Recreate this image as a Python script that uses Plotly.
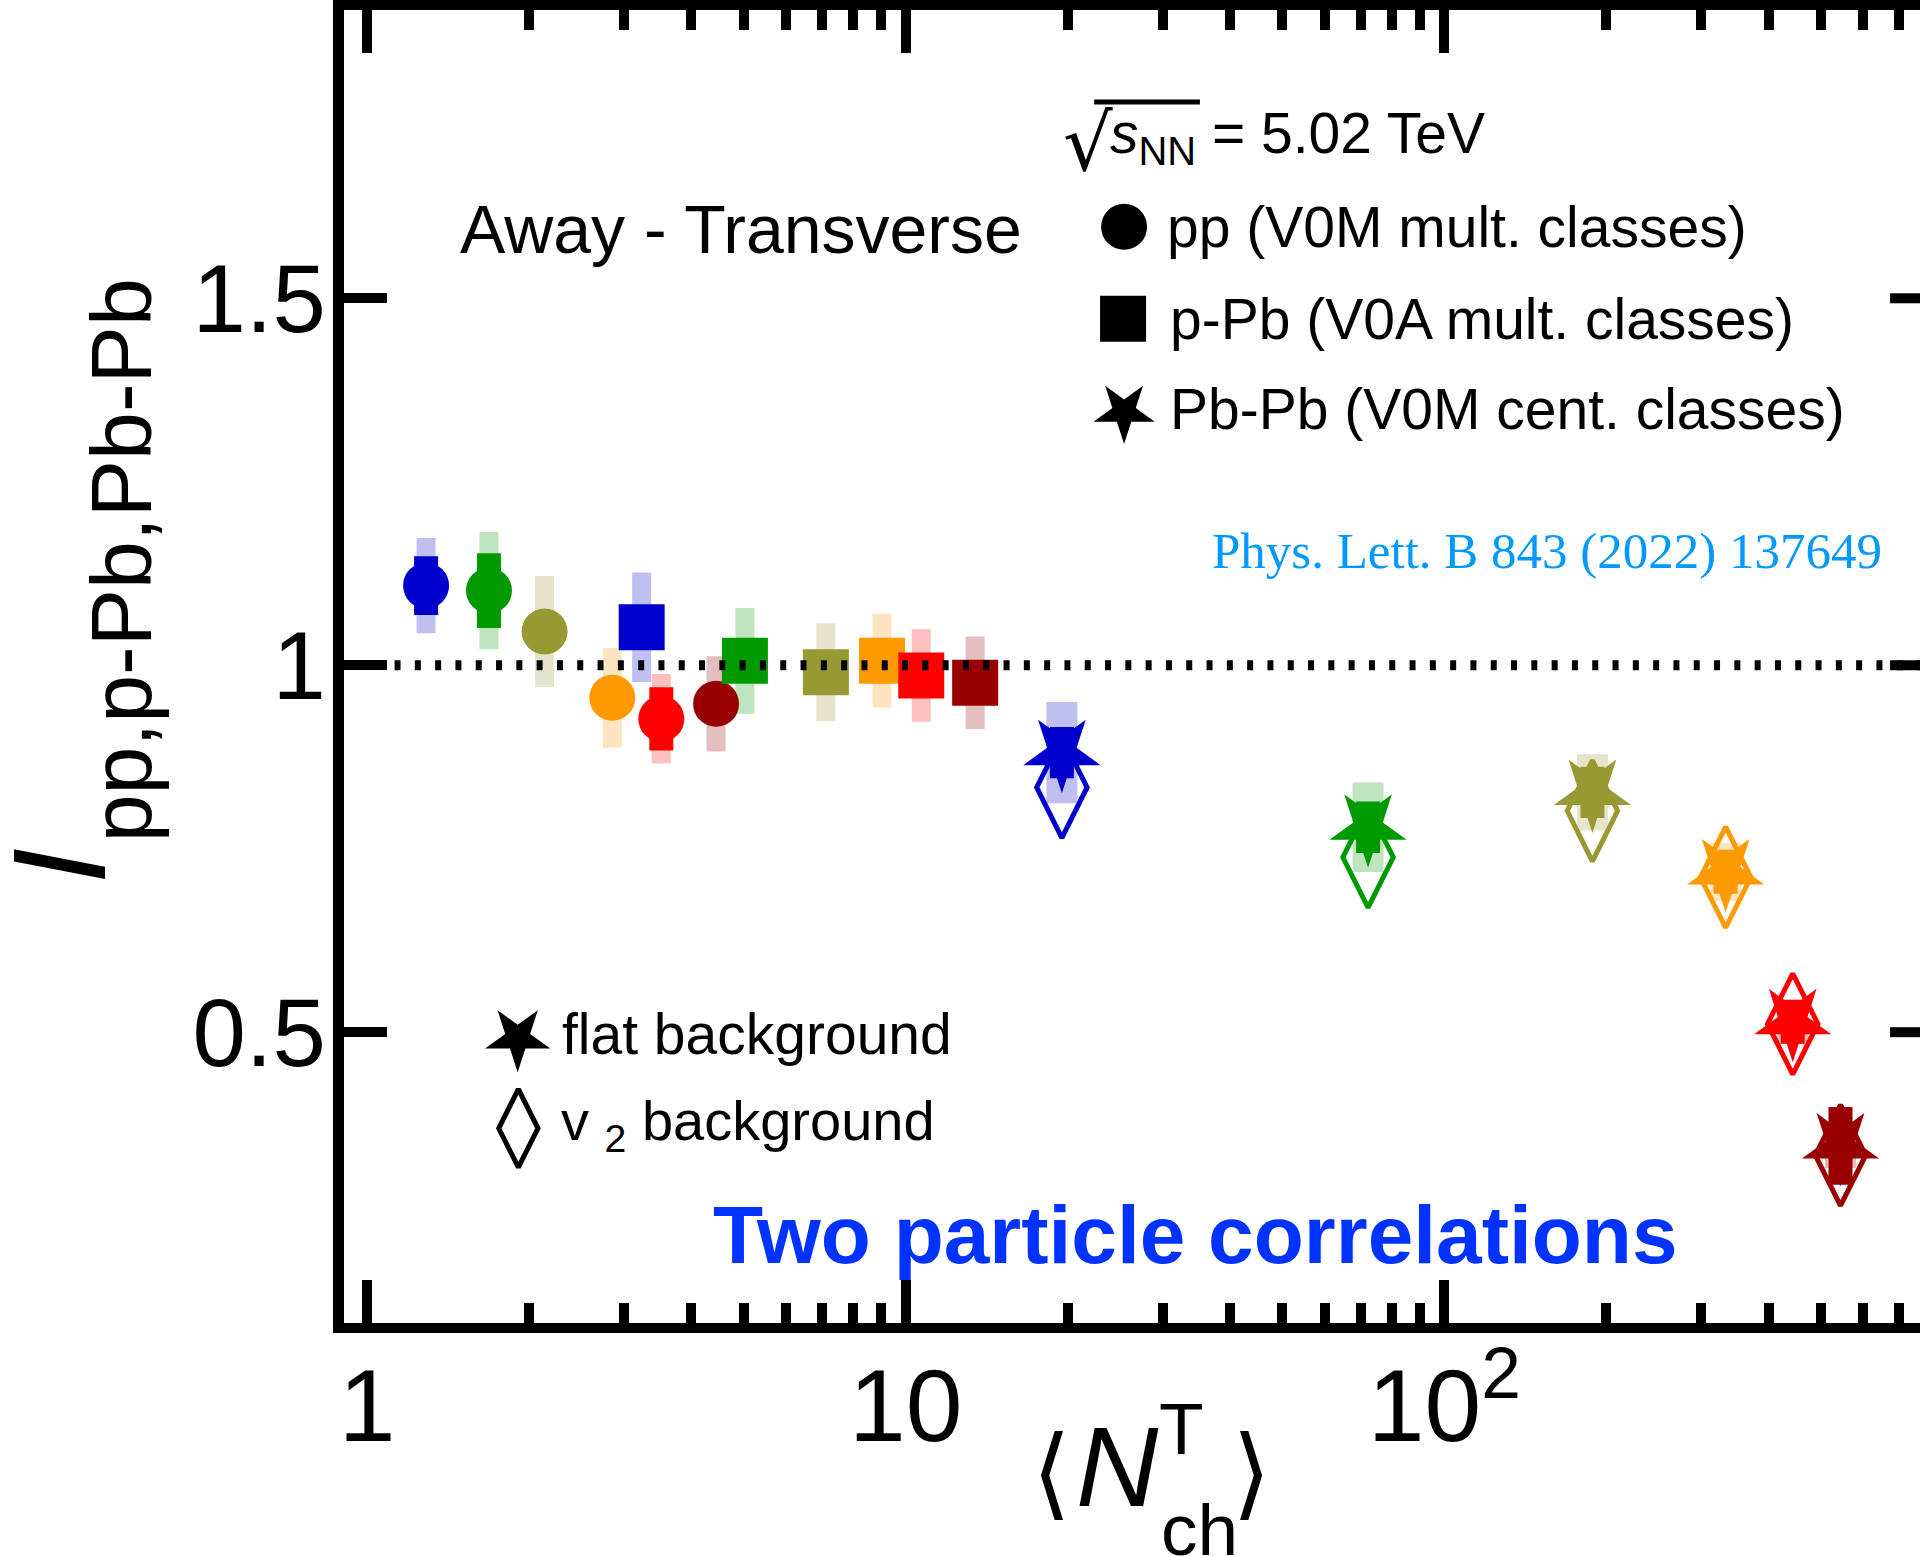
import plotly.graph_objects as go

# ---------------- data ----------------
COLORS = ["#0000cc", "#009900", "#999933", "#ff9900", "#ff0000", "#990000"]
SYS_COLORS = ["rgba(0,0,204,0.25)", "rgba(0,153,0,0.25)", "rgba(153,153,51,0.25)",
              "rgba(255,153,0,0.25)", "rgba(255,0,0,0.25)", "rgba(153,0,0,0.25)"]

pp_x = [1.287, 1.684, 2.136, 2.853, 3.518, 4.446]
pp_y = [1.1085, 1.1017, 1.0459, 0.9556, 0.927, 0.9474]
pp_stat = [0.040, 0.051, 0.025, 0.025, 0.043, 0.025]
pp_sys = [0.065, 0.080, 0.0756, 0.068, 0.061, 0.065]

ppb_x = [3.235, 5.03, 7.11, 9.04, 10.69, 13.46]
ppb_y = [1.0517, 1.006, 0.9905, 1.006, 0.986, 0.976]
ppb_stat = [0.015, 0.015, 0.015, 0.015, 0.015, 0.015]
ppb_sys = [0.0747, 0.072, 0.0667, 0.064, 0.063, 0.063]

pbpb_x = [19.5, 72.2, 188.4, 333.0, 443.6, 544.1]
pbpb_flat_y = [0.881, 0.7793, 0.8267, 0.7185, 0.5143, 0.345]
pbpb_flat_stat = [0.035, 0.035, 0.035, 0.030, 0.030, 0.053]
pbpb_flat_sys = [0.069, 0.061, 0.052, 0.040, 0.030, 0.030]
pbpb_v2_y = [0.8335, 0.7384, 0.8016, 0.711, 0.5113, 0.3324]

x_major_vals = [1, 10, 100]
x_major_text = ["1", "10", "10<sup>2</sup>"]
x_minor_vals = [2, 3, 4, 5, 6, 7, 8, 9, 20, 30, 40, 50, 60, 70, 80, 90, 200, 300, 400, 500, 600, 700]
y_tick_vals = [0.5, 1.0, 1.5]
y_tick_text = ["0.5", "1", "1.5"]

W, H = 1920, 1556
SANS = "Liberation Sans, Arial, Helvetica, sans-serif"
SERIF = "Liberation Serif, Times New Roman, serif"

fig = go.Figure()

# systematic boxes
def add_sys(xs, ys, sys, width):
    for i in range(len(xs)):
        fig.add_trace(go.Scatter(
            x=[xs[i]], y=[ys[i]], mode="markers",
            marker=dict(size=1, color="rgba(0,0,0,0)"),
            error_y=dict(type="data", array=[sys[i]], color=SYS_COLORS[i],
                         thickness=width, width=0),
            hoverinfo="skip", showlegend=False))

add_sys(pp_x, pp_y, pp_sys, 19)
add_sys(ppb_x, ppb_y, ppb_sys, 19)
add_sys(pbpb_x, pbpb_flat_y, pbpb_flat_sys, 31)

# v2 background diamonds
for i in range(len(pbpb_x)):
    fig.add_trace(go.Scatter(
        x=[pbpb_x[i]], y=[pbpb_v2_y[i]], mode="markers",
        marker=dict(symbol="diamond-tall-open", size=72, color=COLORS[i], opacity=1,
                    line=dict(color=COLORS[i], width=5)),
        hoverinfo="skip", showlegend=False))

def add_main(xs, ys, stat, symbol, size, angle=0):
    for i in range(len(xs)):
        fig.add_trace(go.Scatter(
            x=[xs[i]], y=[ys[i]], mode="markers",
            marker=dict(symbol=symbol, size=size, color=COLORS[i], angle=angle, opacity=1,
                        line=dict(width=0)),
            error_y=dict(type="data", array=[stat[i]], color=COLORS[i],
                         thickness=24, width=0),
            hoverinfo="skip", showlegend=False))

add_main(pp_x, pp_y, pp_stat, "circle", 46)
add_main(ppb_x, ppb_y, ppb_stat, "square", 46)
add_main(pbpb_x, pbpb_flat_y, pbpb_flat_stat, "star", 58, angle=180)

# ---------------- legend glyphs on a pixel overlay ----------------
leg_sym_x = [1122, 1121, 1122, 514, 514.7]
leg_sym_y = [226, 318, 411, 1037.6, 1128]
leg_symbols = ["circle", "square", "star", "star", "diamond-tall-open"]
leg_sizes = [46, 46, 46, 49, 56]
leg_angles = [0, 0, 180, 180, 0]
fig.add_trace(go.Scatter(
    x=leg_sym_x, y=leg_sym_y, mode="markers", xaxis="x2", yaxis="y2",
    marker=dict(symbol=leg_symbols, size=leg_sizes, angle=leg_angles, color="black",
                opacity=1, line=dict(color="black", width=[0, 0, 0, 0, 5])),
    hoverinfo="skip", showlegend=False))

ann = []
def txt(x, y, s, size, family=SANS, color="black", xanchor="left", angle=0):
    ann.append(dict(x=x, y=y, xref="x2", yref="y2", text=s, showarrow=False,
                    xanchor=xanchor, yanchor="middle", textangle=angle,
                    font=dict(size=size, family=family, color=color)))

# sqrt(s_NN) label: radical sign, overbar, text
txt(1086, 142, "√", 78, family="DejaVu Sans", xanchor="center")
txt(1106, 136, "<i>s</i><sub>NN</sub> = 5.02 TeV", 57)
txt(1163, 226, "pp (V0M mult. classes)", 57)
txt(1166, 318, "p-Pb (V0A mult. classes)", 57)
txt(1166, 408, "Pb-Pb (V0M cent. classes)", 57)
txt(454, 228, "Away - Transverse", 68)
txt(1208, 550, "Phys. Lett. B 843 (2022) 137649", 51, family=SERIF, color="#0099ff")
txt(556, 1034, "flat background", 57)
txt(555, 1124, "v <sub>2</sub> background", 56)
txt(1194, 1234, "<b>Two particle correlations</b>", 82, color="#0033ff", xanchor="center")

# y title
txt(55, 866, "<i>I</i>", 131, xanchor="center", angle=-90)
txt(116, 560, "pp,p-Pb,Pb-Pb", 86, xanchor="center", angle=-90)
# x title
txt(1049, 1472, "⟨", 100, family="DejaVu Sans", xanchor="center")
txt(1115, 1466, "<i>N</i>", 114, xanchor="center")
txt(1180, 1428, "T", 73, xanchor="center")
txt(1198, 1529, "ch", 73, xanchor="center")
txt(1250, 1472, "⟩", 100, family="DejaVu Sans", xanchor="center")

# ---------------- shapes ----------------
shapes = [dict(type="line", xref="x domain", yref="y", x0=0.032, x1=1, y0=1, y1=1,
               line=dict(color="black", width=10, dash="6px,14.3px"), layer="above")]
for v in y_tick_vals:
    shapes.append(dict(type="line", xref="x domain", yref="y", x0=0.981, x1=1.0,
                       y0=v, y1=v, line=dict(color="black", width=10), layer="above"))
# overbar of the square root
shapes.append(dict(type="line", xref="x2", yref="y2", x0=1092, x1=1198, y0=101, y1=101,
                   line=dict(color="black", width=5), layer="above"))

left, right, top, bottom = 340, 1920, 9, 1322.7
fig.update_layout(
    width=W, height=H, margin=dict(l=0, r=0, t=0, b=0),
    paper_bgcolor="white", plot_bgcolor="rgba(0,0,0,0)",
    hovermode=False, showlegend=False,
    xaxis=dict(type="log", domain=[left / W, right / W], range=[-0.0426, 2.8833],
               showline=True, linewidth=10, linecolor="black", mirror="ticks",
               ticks="inside", ticklen=43, tickwidth=10, tickcolor="black",
               tickmode="array", tickvals=x_major_vals, ticktext=x_major_text,
               tickfont=dict(size=102, family=SANS, color="black"),
               ticklabelstandoff=-14,
               minor=dict(tickmode="array", tickvals=x_minor_vals, ticks="inside",
                          ticklen=20, tickwidth=10, tickcolor="black", showgrid=False),
               showgrid=False, zeroline=False, anchor="y"),
    yaxis=dict(domain=[1 - bottom / H, 1 - top / H], range=[0.104, 1.8928],
               showline=True, linewidth=11, linecolor="black", mirror=False,
               ticks="inside", ticklen=43, tickwidth=10, tickcolor="black",
               tickmode="array", tickvals=y_tick_vals, ticktext=y_tick_text,
               tickfont=dict(size=96, family=SANS, color="black"),
               ticklabelstandoff=-12,
               showgrid=False, zeroline=False, anchor="x"),
    xaxis2=dict(domain=[0, 1], range=[0, W], visible=False, anchor="y2", fixedrange=True),
    yaxis2=dict(domain=[0, 1], range=[H, 0], visible=False, anchor="x2", fixedrange=True),
    annotations=ann, shapes=shapes,
)

fig.write_html("out.html")
